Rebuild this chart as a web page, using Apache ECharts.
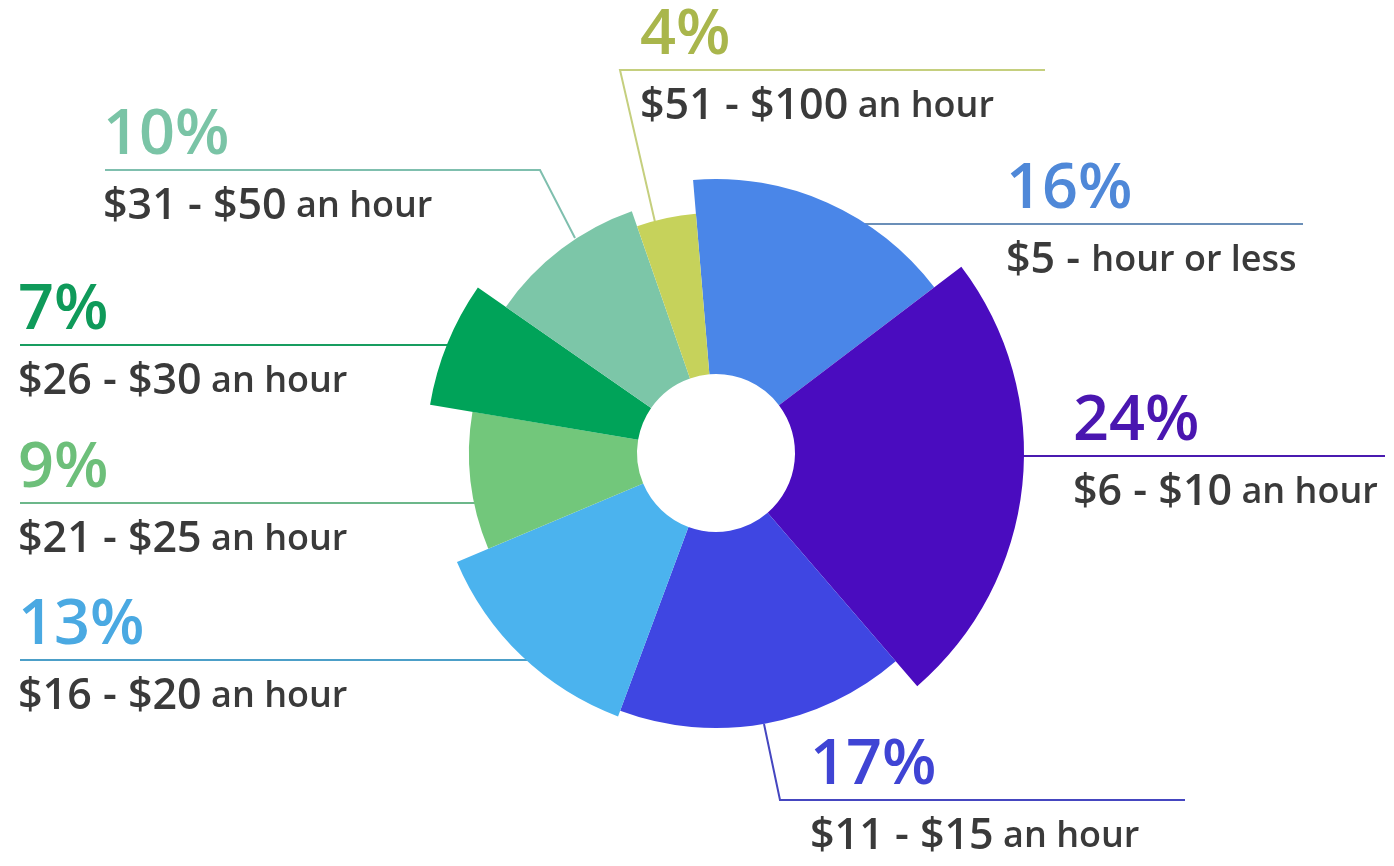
<!DOCTYPE html>
<html>
<head>
<meta charset="utf-8">
<script src="https://cdn.jsdelivr.net/npm/echarts@6/dist/echarts.min.js"></script>
<style>
html,body{margin:0;padding:0;background:#fff;}
#chart{width:1394px;height:866px;}
</style>
</head>
<body>
<div id="chart"></div>
<script>
// ---- data ----
const categories = ['$5 - hour or less', '$6 - $10 an hour', '$11 - $15 an hour', '$16 - $20 an hour',
                    '$21 - $25 an hour', '$26 - $30 an hour', '$31 - $50 an hour', '$51 - $100 an hour'];
const percents = [16, 24, 17, 13, 9, 7, 10, 4];

// ---- styles (visual only) ----
const sliceColors = ['#4a86e8', '#4a0cbf', '#3f46e2', '#4bb3ee', '#72c77b', '#00a359', '#7cc6a8', '#c6d25b'];
const textColors  = ['#4f88d8', '#4a16b0', '#3f44d4', '#4aa9e2', '#6dbf7a', '#0f9a5a', '#7ac4a6', '#a9b64c'];
const lineColors  = ['#6b8fb8', '#4a1ab0', '#4546c0', '#4c9fc8', '#6cb78a', '#189d60', '#7fbfae', '#c5cf7e'];
const outerRadii  = [274, 308, 275, 281, 247, 290, 256, 240];
const innerRadius = 79;
const pieCenter = [716, 453];
// label placement: text left x, guide line y, guide line points
const labelPlacement = [
  {x: 1006, y: 224, pts: [[860,224],[860,224],[1303,224]]},
  {x: 1073, y: 456, pts: [[1020,456],[1020,456],[1385,456]]},
  {x: 810,  y: 800, pts: [[764,724],[780,800],[1185,800]]},
  {x: 18,   y: 660, pts: [[530,660],[530,660],[20,660]]},
  {x: 18,   y: 503, pts: [[476,503],[476,503],[20,503]]},
  {x: 18,   y: 345, pts: [[448,345],[448,345],[20,345]]},
  {x: 103,  y: 170, pts: [[575,238],[540,170],[105,170]]},
  {x: 640,  y: 70,  pts: [[655,222],[620,70],[1045,70]]}
];

const FONT = "'Open Sans', 'Noto Sans', sans-serif";

function formatDesc(cat) {
  let idx = cat.indexOf(' an hour');
  if (idx >= 0) {
    return '{n|' + cat.slice(0, idx) + '}{h| an hour}';
  }
  idx = cat.indexOf('- ');
  if (idx >= 0) {
    return '{n|' + cat.slice(0, idx + 2) + '}{h|' + cat.slice(idx + 2) + '}';
  }
  return '{n|' + cat + '}';
}

const chart = echarts.init(document.getElementById('chart'), null, {renderer: 'canvas'});

const series = categories.map(function (cat, i) {
  return {
    type: 'pie',
    center: pieCenter,
    radius: [innerRadius, outerRadii[i]],
    startAngle: 94.8,
    clockwise: true,
    avoidLabelOverlap: false,
    silent: true,
    animation: false,
    z: 2,
    itemStyle: {borderWidth: 0},
    emphasis: {disabled: true},
    label: {show: false},
    labelLine: {show: false},
    labelLayout: function () {
      const p = labelPlacement[i];
      return {
        x: p.x, y: p.y, align: 'left', verticalAlign: 'middle',
        labelLinePoints: p.pts, hideOverlap: false, moveOverlap: null
      };
    },
    data: categories.map(function (c, j) {
      const visible = (j === i);
      return {
        name: c,
        value: percents[j],
        itemStyle: {color: visible ? sliceColors[j] : 'rgba(0,0,0,0)', borderWidth: 0},
        label: visible ? {
          show: true,
          position: 'outside',
          fontFamily: FONT,
          formatter: function (params) {
            return '{p|' + params.value + '%}\n' + formatDesc(params.name);
          },
          rich: {
            p: {fontFamily: FONT, fontSize: 63, fontWeight: 600, color: textColors[j], lineHeight: 74},
            n: {fontFamily: FONT, fontSize: 43, fontWeight: 600, color: '#3a3a3a', lineHeight: 68},
            h: {fontFamily: FONT, fontSize: 36, fontWeight: 600, color: '#3a3a3a', lineHeight: 68}
          }
        } : {show: false},
        labelLine: visible ? {
          show: true,
          lineStyle: {color: lineColors[j], width: 2}
        } : {show: false}
      };
    })
  };
});

chart.setOption({
  backgroundColor: '#ffffff',
  animation: false,
  series: series
});
</script>
</body>
</html>
